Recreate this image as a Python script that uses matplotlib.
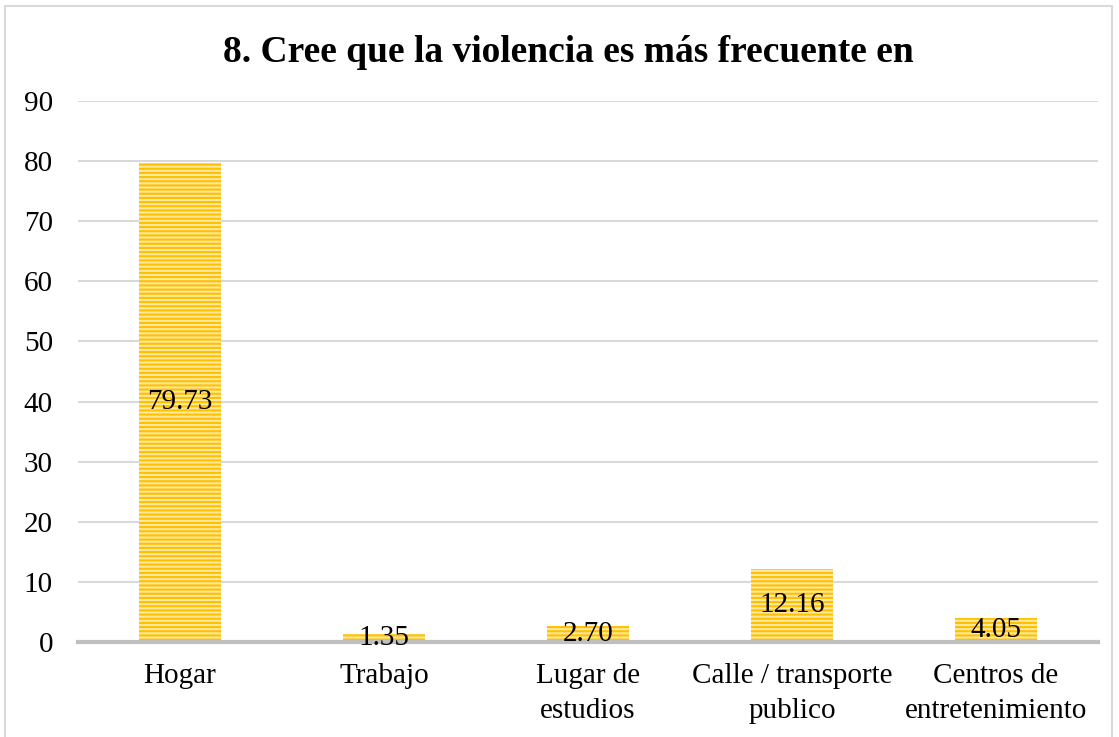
import matplotlib.pyplot as plt
from matplotlib.patches import Rectangle

categories = ["Hogar", "Trabajo", "Lugar de\nestudios", "Calle / transporte\npublico", "Centros de\nentretenimiento"]
values = [79.73, 1.35, 2.70, 12.16, 4.05]
value_labels = ["79.73", "1.35", "2.70", "12.16", "4.05"]
yticks = [0, 10, 20, 30, 40, 50, 60, 70, 80, 90]
title = "8. Cree que la violencia es más frecuente en"

plt.rcParams['font.family'] = ['Liberation Serif', 'DejaVu Serif']
plt.rcParams['hatch.linewidth'] = 1.5

fig = plt.figure(figsize=(11.19, 7.37), dpi=100)
ax = fig.add_axes([78 / 1119, 95 / 737, 1020 / 1119, 541 / 737])

x = range(len(categories))
ax.bar(x, values, width=0.4, color='#FFE8A0', edgecolor='#FFC000',
       linewidth=0, hatch='----', zorder=2)

# data labels centred inside the bars
for i, v in enumerate(values):
    ax.text(i, v / 2, value_labels[i], ha='center', va='center',
            fontsize=21, color='black', zorder=4)

ax.set_xlim(-0.5, len(categories) - 0.5)
ax.set_ylim(0, 90)
ax.set_yticks(yticks)
ax.set_xticks(list(x))
ax.set_xticklabels(categories, fontsize=21, linespacing=1.45)
ax.tick_params(axis='y', labelsize=21, length=0, pad=18)
ax.tick_params(axis='x', length=0, pad=15)

ax.grid(axis='y', color='#D9D9D9', linewidth=1.5, zorder=0)
ax.set_axisbelow(True)
for side in ['top', 'right', 'left']:
    ax.spines[side].set_visible(False)
ax.spines['bottom'].set_color('#BFBFBF')
ax.spines['bottom'].set_linewidth(3)
ax.spines['bottom'].set_zorder(3)

fig.text(0.508, 1 - 52 / 737, title, ha='center', va='center',
         fontsize=27, fontweight='bold')

# light frame around the chart
fig.patches.append(Rectangle((5 / 1119, -0.01), 1107 / 1119, 1 - 6 / 737 + 0.01,
                             transform=fig.transFigure, fill=False,
                             edgecolor='#D9D9D9', linewidth=1.5))

fig.savefig('out.png', dpi=100)
